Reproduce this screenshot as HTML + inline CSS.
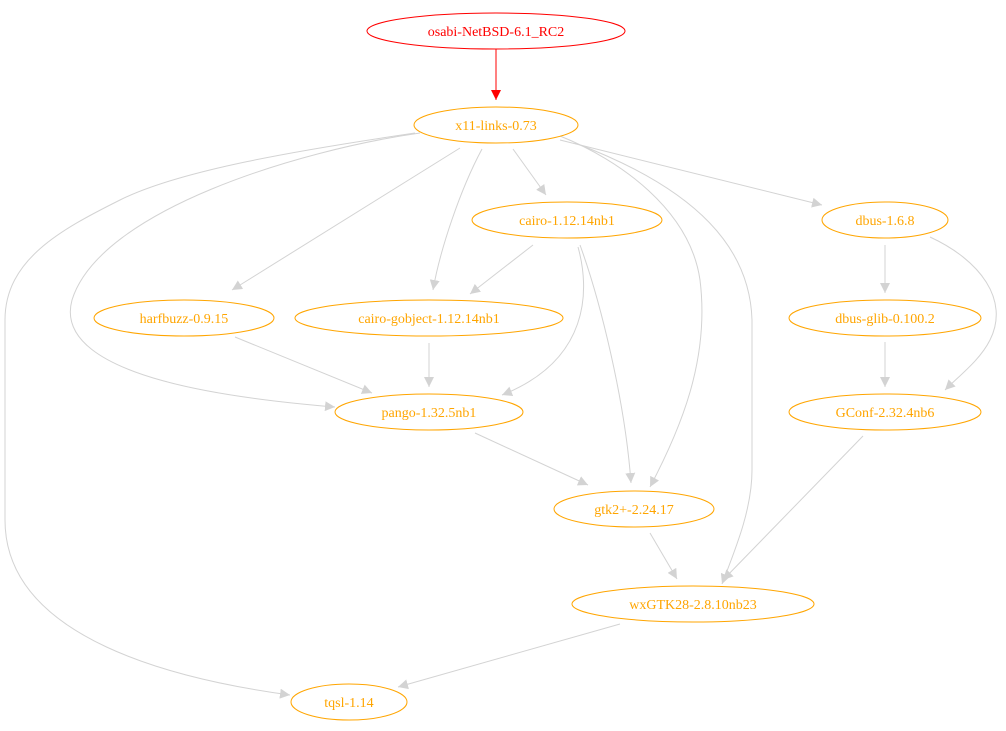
<!DOCTYPE html>
<html><head><meta charset="utf-8"><style>html,body{margin:0;padding:0;background:#fff}svg{display:block}</style></head><body>
<svg width="1006" height="731" viewBox="0 0 1006 731" xmlns="http://www.w3.org/2000/svg" font-family="Liberation Serif, serif" font-size="14">
<defs>
<marker id="g" markerUnits="userSpaceOnUse" markerWidth="11" markerHeight="10" refX="10" refY="5" orient="auto"><path d="M0,0 L10,5 L0,10 z" fill="#d3d3d3"/></marker>
<marker id="r" markerUnits="userSpaceOnUse" markerWidth="11" markerHeight="10" refX="10" refY="5" orient="auto"><path d="M0,0 L10,5 L0,10 z" fill="#ff0000"/></marker>
</defs>
<g fill="none" stroke="#d3d3d3" stroke-width="1" marker-end="url(#g)">
<path d="M513,149 L546,195"/>
<path d="M560,140 L822,205"/>
<path d="M460,148 L232,290"/>
<path d="M482,149 C460,190 440,250 433,290"/>
<path d="M420,133 C300,150 100,210 72,300 C50,380 250,400 335,407"/>
<path d="M415,133 C300,150 180,170 120,200 C60,230 5,260 5,320 L5,520 C5,640 180,680 290,695"/>
<path d="M560,136 C620,160 690,210 700,280 C710,360 680,430 650,487"/>
<path d="M575,143 C700,190 750,250 752,320 L752,470 C752,510 735,550 722,584"/>
<path d="M533,245 L470,294"/>
<path d="M578,247 C590,290 590,360 502,395"/>
<path d="M580,245 C600,300 625,400 631,483"/>
<path d="M885,245 L885,293"/>
<path d="M930,237 C980,260 1010,300 990,340 C980,360 960,375 945,390"/>
<path d="M235,337 L372,393"/>
<path d="M429,343 L429,387"/>
<path d="M885,342 L885,387"/>
<path d="M475,433 L588,485"/>
<path d="M863,436 L723,580"/>
<path d="M650,533 L677,579"/>
<path d="M620,624 L398,687"/>
</g>
<path d="M496,49 L496,100" stroke="#ff0000" fill="none" marker-end="url(#r)"/>
<g fill="none" stroke="#ffa500">
<ellipse cx="496" cy="125" rx="82" ry="18"/>
<ellipse cx="567" cy="220" rx="95" ry="18"/>
<ellipse cx="885" cy="220" rx="63" ry="18"/>
<ellipse cx="184" cy="318" rx="90" ry="18"/>
<ellipse cx="429" cy="318" rx="134" ry="18"/>
<ellipse cx="885" cy="318" rx="96" ry="18"/>
<ellipse cx="429" cy="412" rx="94" ry="18"/>
<ellipse cx="885" cy="412" rx="96" ry="18"/>
<ellipse cx="634" cy="509" rx="80" ry="18"/>
<ellipse cx="693" cy="604" rx="121" ry="18"/>
<ellipse cx="349" cy="702" rx="58" ry="18"/>
</g>
<ellipse cx="496" cy="31" rx="129" ry="18" fill="none" stroke="#ff0000"/>
<g fill="#ffa500" text-anchor="middle">
<text x="496" y="130">x11-links-0.73</text>
<text x="567" y="225">cairo-1.12.14nb1</text>
<text x="885" y="225">dbus-1.6.8</text>
<text x="184" y="323">harfbuzz-0.9.15</text>
<text x="429" y="323">cairo-gobject-1.12.14nb1</text>
<text x="885" y="323">dbus-glib-0.100.2</text>
<text x="429" y="417">pango-1.32.5nb1</text>
<text x="885" y="417">GConf-2.32.4nb6</text>
<text x="634" y="514">gtk2+-2.24.17</text>
<text x="693" y="609">wxGTK28-2.8.10nb23</text>
<text x="349" y="707">tqsl-1.14</text>
</g>
<text x="496" y="36" fill="#ff0000" text-anchor="middle">osabi-NetBSD-6.1_RC2</text>
</svg>
</body></html>
